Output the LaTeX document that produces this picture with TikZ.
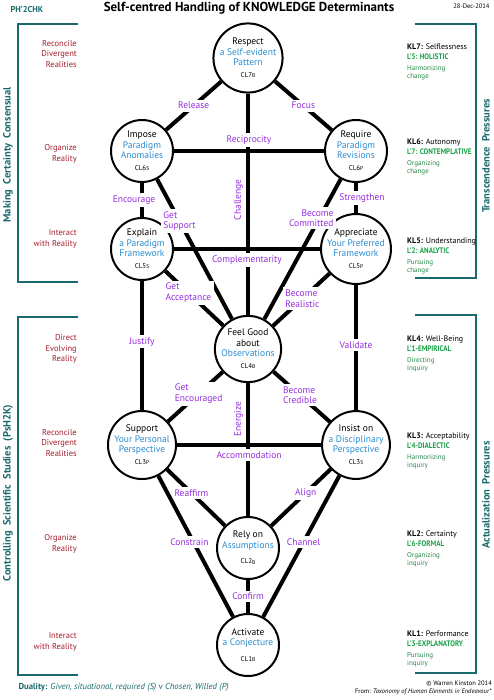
\documentclass[tikz,border=0pt]{standalone}
\usepackage{fontspec}
\setmainfont{PT Sans}
\newfontfamily\narrowsans[FakeStretch=0.88]{PT Sans}
\usetikzlibrary{positioning}

\definecolor{clpurple}{RGB}{150,45,225}
\definecolor{clblue}{RGB}{40,140,210}
\definecolor{clred}{RGB}{165,30,45}
\definecolor{clteal}{RGB}{25,105,110}
\definecolor{clgreen}{RGB}{25,160,70}
\definecolor{cldgreen}{RGB}{35,135,70}

% CL label with small letter after the number
\newcommand{\clab}[2]{{\fontsize{7}{8}\selectfont CL#1\raisebox{-0.7pt}{\fontsize{5.5}{6}\selectfont #2}}}
\newcommand{\lev}[1]{\textcolor{clgreen}{\narrowsans\bfseries #1}}
\newcommand{\mode}[1]{\textcolor{cldgreen}{\fontsize{7}{7.5}\selectfont #1}}

\tikzset{
  kcircle/.style={circle,draw,line width=2pt,fill=white,minimum size=62pt,inner sep=0pt,
    align=center,font=\fontsize{9.5}{10.5}\selectfont},
  link/.style={line width=4pt},
  lbl/.style={fill=white,text=clpurple,inner sep=2.5pt,align=left,font=\fontsize{9.5}{10.5}\selectfont},
  realm/.style={text=clred,align=right,anchor=east,inner sep=0pt,font=\fontsize{8.5}{10.5}\selectfont},
  klev/.style={anchor=north west,align=left,inner sep=0pt,font=\fontsize{8}{10}\selectfont},
  bracket/.style={draw=clteal,line width=2.2pt},
  sidetitle/.style={text=clteal,rotate=90,font=\fontsize{10.5}{12}\selectfont\bfseries},
}

\begin{document}
\begin{tikzpicture}[x=1pt,y=-1pt]
    \useasboundingbox (0,0) rectangle (494,700);
    % header
    \node[anchor=west,text=clteal,font=\fontsize{8.5}{10}\selectfont\bfseries] (code) at (7,10) {PH'2CHK};
    \node[font=\fontsize{13}{15}\selectfont\bfseries] (title) at (249,8) {Self-centred Handling of KNOWLEDGE Determinants};
    \node[anchor=east,font=\fontsize{6.5}{8}\selectfont] (date) at (493,6) {28-Dec-2014};
    % brackets
    \draw[bracket] (78,24) -- (18,24) -- (18,282) -- (78,282);
    \draw[bracket] (78,317) -- (18,317) -- (18,675) -- (78,675);
    \draw[bracket] (415,24) -- (476,24) -- (476,278) -- (415,278);
    \draw[bracket] (415,315) -- (476,315) -- (476,673) -- (415,673);
    \node[sidetitle] (consensual) at (8,155) {Making\ \ Certainty\ \ Consensual};
    \node[sidetitle] (studies) at (8,493) {Controlling\ \ Scientific\ \ Studies\ \ (PsH2K)};
    \node[sidetitle] (transcend) at (486,156) {Transcendence\ \ Pressures};
    \node[sidetitle] (actualize) at (486,495) {Actualization\ \ Pressures};
    % realities
    \node[realm] (r7) at (77,54) {Reconcile\\Divergent\\Realities};
    \node[realm] (r6) at (77,154) {Organize\\Reality};
    \node[realm] (r5) at (77,239) {Interact\\with Reality};
    \node[realm] (r4) at (77,349) {Direct\\Evolving\\Reality};
    \node[realm] (r3) at (77,443) {Reconcile\\Divergent\\Realities};
    \node[realm] (r2) at (77,544) {Organize\\Reality};
    \node[realm] (r1) at (77,642) {Interact\\with Reality};
    % knowledge levels
    \node[klev] (kl7) at (407,44) {\textbf{KL7:} Selflessness\\\lev{L'5: HOLISTIC}\\[1pt]\mode{Harmonizing}\\[-2.5pt]\mode{change}};
    \node[klev] (kl6) at (407,139) {\textbf{KL6:} Autonomy\\\lev{L'7: CONTEMPLATIVE}\\[1pt]\mode{Organizing}\\[-2.5pt]\mode{change}};
    \node[klev] (kl5) at (407,238) {\textbf{KL5:} Understanding\\\lev{L'2: ANALYTIC}\\[1pt]\mode{Pursuing}\\[-2.5pt]\mode{change}};
    \node[klev] (kl4) at (407,336) {\textbf{KL4:} Well-Being\\\lev{L'1-EMPIRICAL}\\[1pt]\mode{Directing}\\[-2.5pt]\mode{inquiry}};
    \node[klev] (kl3) at (407,433) {\textbf{KL3:} Acceptability\\\lev{L'4-DIALECTIC}\\[1pt]\mode{Harmonizing}\\[-2.5pt]\mode{inquiry}};
    \node[klev] (kl2) at (407,531) {\textbf{KL2:} Certainty\\\lev{L'6-FORMAL}\\[1pt]\mode{Organizing}\\[-2.5pt]\mode{inquiry}};
    \node[klev] (kl1) at (407,631) {\textbf{KL1:} Performance\\\lev{L'3-EXPLANATORY}\\[1pt]\mode{Pursuing}\\[-2.5pt]\mode{inquiry}};
    % circles
    \node[kcircle] (cl7) at (248,58) {Respect\\\textcolor{clblue}{a Self-evident}\\\textcolor{clblue}{Pattern}\\[1pt]\clab{7}{B}};
    \node[kcircle] (cl6s) at (142,151) {Impose\\\textcolor{clblue}{Paradigm}\\\textcolor{clblue}{Anomalies}\\[1pt]\clab{6}{S}};
    \node[kcircle] (cl6p) at (356,151) {Require\\\textcolor{clblue}{Paradigm}\\\textcolor{clblue}{Revisions}\\[1pt]\clab{6}{P}};
    \node[kcircle] (cl5s) at (142,249) {Explain\\\textcolor{clblue}{a Paradigm}\\\textcolor{clblue}{Framework}\\[1pt]\clab{5}{S}};
    \node[kcircle] (cl5p) at (356,249) {Appreciate\\\textcolor{clblue}{Your Preferred}\\\textcolor{clblue}{Framework}\\[1pt]\clab{5}{P}};
    \node[kcircle] (cl4) at (248,349) {Feel Good\\about\\\textcolor{clblue}{Observations}\\[1pt]\clab{4}{B}};
    \node[kcircle] (cl3p) at (142,445) {Support\\\textcolor{clblue}{Your Personal}\\\textcolor{clblue}{Perspective}\\[1pt]\clab{3}{P}};
    \node[kcircle] (cl3s) at (356,445) {Insist on\\\textcolor{clblue}{a Disciplinary}\\\textcolor{clblue}{Perspective}\\[1pt]\clab{3}{S}};
    \node[kcircle] (cl2) at (248,548) {Rely on\\\textcolor{clblue}{Assumptions}\\[5pt]\clab{2}{B}};
    \node[kcircle] (cl1) at (248,645) {Activate\\\textcolor{clblue}{a Conjecture}\\[5pt]\clab{1}{B}};
    % vertical spine
    \draw[link] (cl7) -- node[lbl,fill=none,rotate=90,anchor=south,inner sep=3pt,pos=0.48]{Challenge} (cl4);
    \draw[link] (cl4) -- node[lbl,fill=none,rotate=90,anchor=south,inner sep=3pt,pos=0.27]{Energize} (cl2);
    \draw[link] (cl2) -- node[lbl]{Confirm} (cl1);
    % cross links
    \draw[link] (cl6s) -- node[lbl,above=2pt]{Reciprocity} (cl6p);
    \draw[link] (cl5s) -- node[lbl,below=2pt]{Complementarity} (cl5p);
    \draw[link] (cl3p) -- node[lbl,below=2pt]{Accommodation} (cl3s);
    % upper links
    \draw[link] (cl7) -- node[lbl]{Release} (cl6s);
    \draw[link] (cl7) -- node[lbl]{Focus} (cl6p);
    \draw[link] (cl6s) -- node[lbl,xshift=-8pt]{Encourage} (cl5s);
    \draw[link] (cl6p) -- node[lbl,xshift=6pt]{Strengthen} (cl5p);
    \draw[link] (cl6s) -- node[lbl,pos=0.3]{Get\\Support} (cl4);
    \draw[link] (cl6p) -- node[lbl,align=right,pos=0.28,xshift=-8pt]{Become\\Committed} (cl4);
    \draw[link] (cl5s) -- node[lbl,pos=0.4]{Get\\Acceptance} (cl4);
    \draw[link] (cl5p) -- node[lbl,pos=0.48]{Become\\Realistic} (cl4);
    % lower links
    \draw[link] (cl5s) -- node[lbl,pos=0.47]{Justify} (cl3p);
    \draw[link] (cl5p) -- node[lbl,pos=0.48]{Validate} (cl3s);
    \draw[link] (cl4) -- node[lbl,pos=0.44]{Get\\Encouraged} (cl3p);
    \draw[link] (cl4) -- node[lbl,pos=0.47]{Become\\Credible} (cl3s);
    \draw[link] (cl3p) -- node[lbl,pos=0.42]{Reaffirm} (cl2);
    \draw[link] (cl3s) -- node[lbl,pos=0.42]{Align} (cl2);
    \draw[link] (cl3p) -- node[lbl,pos=0.47,xshift=-4pt]{Constrain} (cl1);
    \draw[link] (cl3s) -- node[lbl,pos=0.47]{Channel} (cl1);
    % footer
    \node[anchor=west,text=clteal,font=\fontsize{8.7}{10}\selectfont] (duality) at (15,687) {\textbf{Duality:} \textit{Given, situational, required (S)} v \textit{Chosen, Willed (P)}};
    \node[anchor=east,align=right,inner sep=0pt,font=\fontsize{6.5}{7.5}\selectfont] (credit) at (492,688) {\textcopyright{} Warren Kinston 2014\\From: \textit{Taxonomy of Human Elements in Endeavour}*};
\end{tikzpicture}
\end{document}
